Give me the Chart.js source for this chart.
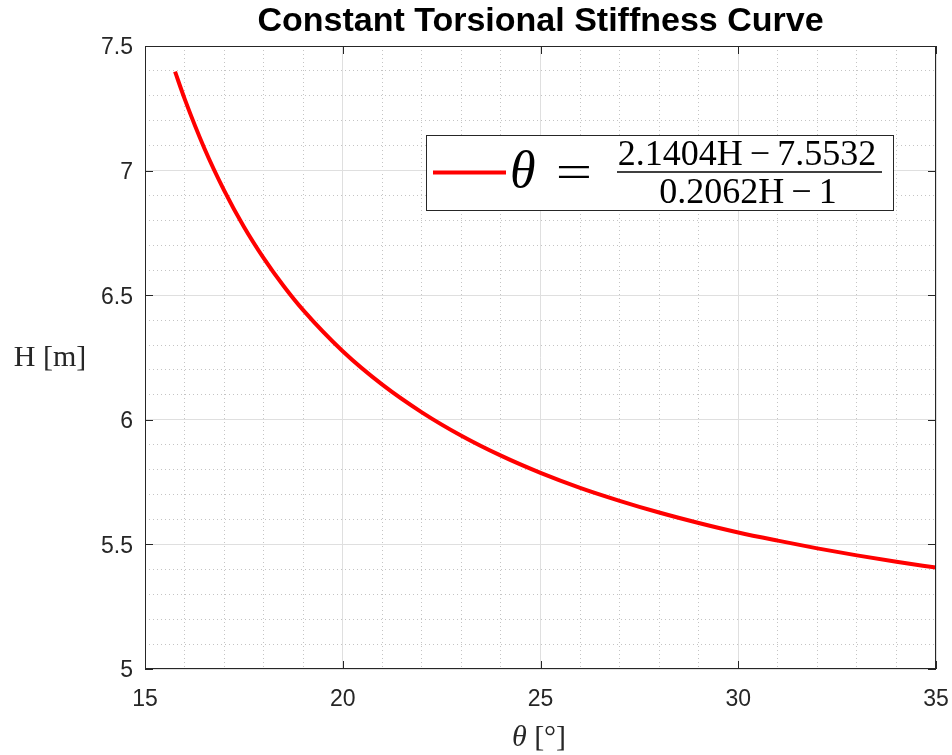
<!DOCTYPE html>
<html>
<head>
<meta charset="utf-8">
<title>Constant Torsional Stiffness Curve</title>
<script src="https://cdn.jsdelivr.net/npm/chart.js@4.4.1/dist/chart.umd.min.js"></script>
<style>
  html, body { margin: 0; padding: 0; background: #fff; }
</style>
</head>
<body>
<canvas id="chart" width="952" height="755"></canvas>
<script>
// values
const theta = [15.76, 16, 16.5, 17, 17.5, 18, 18.5, 19, 20, 21, 22, 23, 24, 25, 26, 27, 28, 29, 30, 31, 32, 33, 34, 35];
const heightH = [7.397, 7.289, 7.090, 6.921, 6.775, 6.649, 6.538, 6.440, 6.275, 6.141, 6.030, 5.936, 5.856, 5.787, 5.727, 5.675, 5.628, 5.586, 5.548, 5.515, 5.484, 5.456, 5.430, 5.407];
const xTicks = [15, 20, 25, 30, 35];
const yTicks = [5, 5.5, 6, 6.5, 7, 7.5];

const sans = "'Liberation Sans', Arial, Helvetica, sans-serif";
const serif = "'Liberation Serif', 'Times New Roman', serif";
const ink = '#262626';

function isMajor(v, step) {
    const r = v / step;
    return Math.abs(r - Math.round(r)) < 1e-6;
}

// box, inner ticks, axis labels and the legend, drawn the matlab way
const matlabFrame = {
    id: 'matlabFrame',
    afterDatasetsDraw(chart) {
        const { ctx, chartArea: a, scales } = chart;
        ctx.save();
        ctx.strokeStyle = ink;
        ctx.lineWidth = 1;
        ctx.strokeRect(a.left + 0.5, a.top + 0.5, a.right - a.left - 1, a.bottom - a.top - 1);

        ctx.beginPath();
        scales.x.ticks.forEach(t => {
            const px = Math.round(scales.x.getPixelForValue(t.value)) + 0.5;
            ctx.moveTo(px, a.bottom); ctx.lineTo(px, a.bottom - 8);
            ctx.moveTo(px, a.top); ctx.lineTo(px, a.top + 8);
        });
        scales.y.ticks.forEach(t => {
            const py = Math.round(scales.y.getPixelForValue(t.value)) + 0.5;
            ctx.moveTo(a.left, py); ctx.lineTo(a.left + 8, py);
            ctx.moveTo(a.right, py); ctx.lineTo(a.right - 8, py);
        });
        ctx.stroke();

        // axis labels
        ctx.fillStyle = ink;
        ctx.textBaseline = 'alphabetic';
        ctx.textAlign = 'center';
        ctx.font = '30px ' + serif;
        ctx.fillText('H [m]', 50, 366);

        ctx.font = 'italic 30px ' + serif;
        const thW = ctx.measureText('θ').width;
        ctx.font = '30px ' + serif;
        const restW = ctx.measureText(' [°]').width;
        let x0 = 539 - (thW + restW) / 2;
        ctx.textAlign = 'left';
        ctx.font = 'italic 30px ' + serif;
        ctx.fillText('θ', x0, 746);
        ctx.font = '30px ' + serif;
        ctx.fillText(' [°]', x0 + thW, 746);

        // legend
        const ds = chart.data.datasets[0];
        ctx.fillStyle = '#fff';
        ctx.fillRect(426, 135, 468, 75);
        ctx.strokeStyle = ink;
        ctx.lineWidth = 1;
        ctx.strokeRect(426.5, 135.5, 467, 75);
        ctx.strokeStyle = ds.borderColor;
        ctx.lineWidth = ds.borderWidth;
        ctx.beginPath();
        ctx.moveTo(433, 172.5); ctx.lineTo(506, 172.5);
        ctx.stroke();

        ctx.fillStyle = '#000';
        ctx.textAlign = 'left';
        ctx.font = 'italic 52px ' + serif;
        ctx.fillText('θ', 510, 187);
        ctx.textAlign = 'center';
        ctx.font = '46px ' + serif;
        ctx.save();
        ctx.translate(574, 187);
        ctx.scale(1.4, 1);
        ctx.fillText('=', 0, 0);
        ctx.restore();

        ctx.font = '36px ' + serif;
        ctx.fillText('2.1404H\u2009\u2212\u20097.5532', 747, 165);
        ctx.fillText('0.2062H\u2009\u2212\u20091', 748, 203);
        ctx.strokeStyle = '#000';
        ctx.lineWidth = 1.5;
        ctx.beginPath();
        ctx.moveTo(617, 172); ctx.lineTo(882, 172);
        ctx.stroke();
        ctx.restore();
    }
};

new Chart(document.getElementById('chart'), {
    type: 'line',
    data: {
        datasets: [{
            label: 'θ = (2.1404H − 7.5532) / (0.2062H − 1)',
            data: theta.map((t, i) => ({ x: t, y: heightH[i] })),
            borderColor: '#ff0000',
            borderWidth: 4,
            pointRadius: 0,
            cubicInterpolationMode: 'monotone',
            fill: false
        }]
    },
    options: {
        responsive: false,
        animation: false,
        layout: { padding: { left: 0, right: 16, top: 0, bottom: 0 } },
        plugins: {
            legend: { display: false },
            tooltip: { enabled: false },
            title: {
                display: true,
                text: 'Constant Torsional Stiffness Curve',
                fullSize: false,
                color: '#000',
                font: { family: sans, size: 34, weight: 'bold' },
                padding: { top: 1, bottom: 4.2 }
            }
        },
        scales: {
            x: {
                type: 'linear',
                position: 'bottom',
                min: 15,
                max: 35,
                afterBuildTicks: s => { s.ticks = xTicks.map(v => ({ value: v })); },
                afterFit: s => { s.height = 86; s.paddingLeft = 0; s.paddingRight = 0; },
                grid: { color: '#dfdfdf', lineWidth: 1, drawTicks: false },
                border: { display: false },
                ticks: { color: ink, font: { family: sans, size: 23 }, padding: 17, maxRotation: 0 }
            },
            xMinor: {
                type: 'linear',
                position: 'bottom',
                min: 15,
                max: 35,
                afterFit: s => { s.height = 0; s.paddingLeft = 0; s.paddingRight = 0; },
                ticks: { display: false, stepSize: 1 },
                grid: {
                    drawTicks: false,
                    lineWidth: 1,
                    color: c => isMajor(c.tick.value, 5) ? 'rgba(0,0,0,0)' : '#c4c4c4'
                },
                border: { display: false, dash: [1, 3] }
            },
            y: {
                type: 'linear',
                position: 'left',
                min: 5,
                max: 7.5,
                afterBuildTicks: s => { s.ticks = yTicks.map(v => ({ value: v })); },
                afterFit: s => { s.width = 145; s.paddingTop = 0; s.paddingBottom = 0; },
                grid: { color: '#dfdfdf', lineWidth: 1, drawTicks: false },
                border: { display: false },
                ticks: { color: ink, font: { family: sans, size: 23 }, padding: 12, labelOffset: 2, callback: v => String(v) }
            },
            yMinor: {
                type: 'linear',
                position: 'left',
                min: 5,
                max: 7.5,
                afterFit: s => { s.width = 0; s.paddingTop = 0; s.paddingBottom = 0; },
                ticks: { display: false, stepSize: 0.1 },
                grid: {
                    drawTicks: false,
                    lineWidth: 1,
                    color: c => isMajor(c.tick.value, 0.5) ? 'rgba(0,0,0,0)' : '#c4c4c4'
                },
                border: { display: false, dash: [1, 3] }
            }
        }
    },
    plugins: [matlabFrame]
});
</script>
</body>
</html>
